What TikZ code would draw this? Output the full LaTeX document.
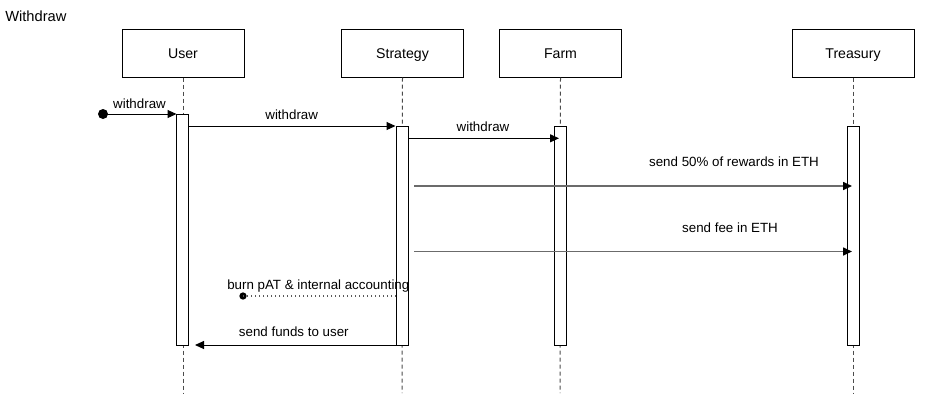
\documentclass[tikz,border=0pt]{standalone}
\usepackage{fontspec}
\setmainfont{Liberation Sans}
\usetikzlibrary{arrows.meta}
\begin{document}
\begin{tikzpicture}[x=0.75pt,y=-0.75pt,
  actor/.style={draw,line width=0.75pt,minimum width=91.5pt,minimum height=36pt,inner sep=0pt,text height=8pt,text depth=0pt,font=\fontsize{10.6pt}{12pt}\selectfont},
  bar/.style={draw,fill=white,line width=0.75pt,minimum width=9pt,inner sep=0pt},
  lbl/.style={anchor=base,inner sep=0pt,font=\fontsize{10pt}{12pt}\selectfont},
  life/.style={draw=black!70,line width=0.75pt,dash pattern=on 3pt off 2.25pt},
  msg/.style={line width=0.75pt,-{Triangle[length=6.75pt,width=6pt,color=black]}},
  greymsg/.style={msg,draw=black!58,line width=1.2pt},
  dotmsg/.style={draw=black!65,line width=0.9pt,dash pattern=on 0.75pt off 2.25pt},
  startdot/.style={circle,fill=black,inner sep=0pt}
]
\useasboundingbox (0,0) rectangle (933,411);

\node[anchor=base west,inner sep=0pt,font=\fontsize{11pt}{13pt}\selectfont] (title) at (5,21.7) {Withdraw};

% actors
\node[actor] (hu) at (183,53) {User};
\node[actor] (hs) at (402.5,53) {Strategy};
\node[actor] (hf) at (560.5,53) {Farm};
\node[actor] (ht) at (853,53) {Treasury};

% lifeline ends
\coordinate (eu) at (183,393);
\coordinate (es) at (402,393);
\coordinate (ef) at (560,393);
\coordinate (et) at (853,393);
\draw[life] (hu.south) -- (eu);
\draw[life] (hs.south) -- (es);
\draw[life] (hf.south) -- (ef);
\draw[life] (ht.south) -- (et);

% activation bars
\node[bar,minimum height=173.25pt] (bu) at (182.5,229.5) {};
\node[bar,minimum height=164.25pt] (bs) at (402,235.5) {};
\node[bar,minimum height=164.25pt] (bf) at (560,235.5) {};
\node[bar,minimum height=164.25pt] (bt) at (853,235.5) {};

% found message
\node[startdot,minimum size=7.5pt] (d1) at (103,114) {};
\coordinate (m1e) at (176.5,114);
\draw[msg] (d1.center) -- (m1e);
\node[lbl] (l1) at (139.5,108) {withdraw};

% user -> strategy
\coordinate (m2s) at (188.5,126);
\coordinate (m2e) at (395.5,126);
\draw[msg] (m2s) -- (m2e);
\node[lbl] (l2) at (291.7,119) {withdraw};

% strategy -> farm
\coordinate (m3s) at (408,138.3);
\coordinate (m3e) at (559,138.3);
\draw[msg] (m3s) -- (m3e);
\node[lbl] (l3) at (483,131.7) {withdraw};

% strategy -> treasury
\coordinate (m4s) at (414,186);
\coordinate (m4e) at (852,186);
\draw[greymsg] (m4s) -- (m4e);
\node[lbl] (l4) at (734,166.7) {send 50\% of rewards in ETH};

\coordinate (m5s) at (414,251.5);
\coordinate (m5e) at (852,251.5);
\draw[greymsg] (m5s) -- (m5e);
\node[lbl] (l5) at (730,232.7) {send fee in ETH};

% burn (lost message)
\coordinate (m6s) at (396,296);
\node[startdot,minimum size=5.5pt] (d6) at (243,296) {};
\draw[dotmsg] (m6s) -- (d6.center);
\node[lbl] (l6) at (318.3,289.3) {burn pAT \& internal accounting};

% strategy -> user
\coordinate (m7s) at (408,345);
\coordinate (m7e) at (195,345);
\draw[msg] (m7s) -- (m7e);
\node[lbl] (l7) at (293.8,336.7) {send funds to user};
\end{tikzpicture}
\end{document}
